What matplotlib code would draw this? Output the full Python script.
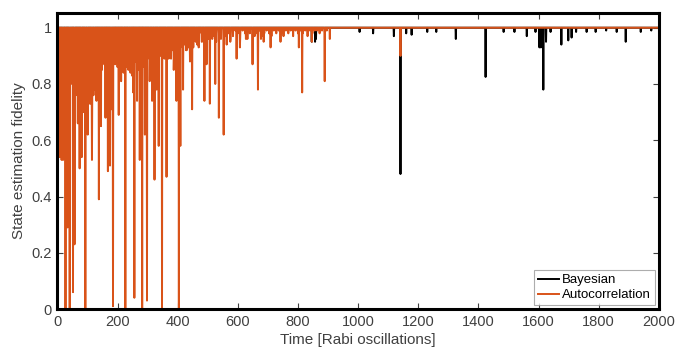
import matplotlib.pyplot as plt
import numpy as np

plt.rcParams['font.family'] = ['Liberation Sans', 'DejaVu Sans']

# time axis, one sample per Rabi oscillation
n_steps = 2000

# ---- Autocorrelation: big dips (time, fidelity)
auto_dip_t = [19, 27, 34, 41, 45, 52, 57, 64, 68, 74, 81, 86, 93, 101, 108, 115, 123, 130, 138,
              145, 153, 160, 168, 175, 181, 185, 196, 204, 212, 221, 226, 235, 243, 252, 256,
              265, 274, 282, 291, 298, 307, 315, 323, 330, 337, 348, 356, 363, 370, 378, 387,
              396, 404, 409, 418, 430, 441, 448, 459, 465, 470, 481, 489, 496, 507, 515, 525,
              537, 553, 563, 575, 596, 607, 627, 649, 667, 677, 686, 709, 742, 803, 814, 846,
              889, 906, 1141]
auto_dip_v = [0.53, 0.0, 0.29, 0.0, 0.80, 0.06, 0.23, 0.80, 0.66, 0.50, 0.54, 0.70, 0.0, 0.62,
              0.73, 0.53, 0.80, 0.74, 0.39, 0.65, 0.91, 0.68, 0.49, 0.51, 0.71, 0.01, 0.91,
              0.69, 0.81, 0.90, 0.0, 0.86, 0.84, 0.77, 0.04, 0.74, 0.53, 0.0, 0.62, 0.03, 0.81,
              0.74, 0.46, 0.78, 0.58, 0.0, 0.93, 0.47, 0.89, 0.89, 0.85, 0.74, 0.0, 0.58, 0.78,
              0.92, 0.88, 0.71, 0.96, 0.94, 0.93, 0.95, 0.74, 0.87, 0.73, 0.96, 0.80, 0.68,
              0.62, 0.94, 0.95, 0.89, 0.93, 0.96, 0.87, 0.78, 0.96, 0.95, 0.93, 0.95, 0.93,
              0.77, 0.95, 0.81, 0.96, 0.90]

# dense band of smaller dips at the start (every 2, then every 3, then every 8 steps)
auto_band1_t = list(range(2, 26, 2))
auto_band1_v = [0.62, 0.55, 0.58, 0.54, 0.60, 0.56, 0.53, 0.57, 0.61, 0.55, 0.59, 0.66]

auto_band2_t = list(range(28, 461, 4))
auto_band2_v = [0.84, 0.88, 0.82, 0.86, 0.90, 0.83, 0.85, 0.80, 0.86,
                0.77, 0.73, 0.80, 0.75, 0.71, 0.78, 0.74, 0.76, 0.72, 0.79, 0.75, 0.77, 0.73,
                0.81, 0.76, 0.78, 0.82,
                0.86, 0.89, 0.84, 0.88, 0.85, 0.90, 0.87, 0.83, 0.88, 0.86, 0.91, 0.85, 0.88,
                0.84, 0.89, 0.87, 0.90, 0.86,
                0.88, 0.85, 0.90, 0.87, 0.84, 0.89, 0.86, 0.91, 0.85, 0.88, 0.87, 0.83, 0.90,
                0.86, 0.88, 0.92, 0.85, 0.89, 0.87, 0.90, 0.86, 0.88, 0.91, 0.85, 0.89,
                0.91, 0.89, 0.93, 0.90, 0.88, 0.92, 0.91, 0.94, 0.89, 0.92, 0.90, 0.93, 0.91,
                0.89, 0.94, 0.92, 0.90, 0.93, 0.91, 0.95, 0.92, 0.90, 0.93, 0.91, 0.94,
                0.94, 0.92, 0.95, 0.93, 0.96, 0.94, 0.92, 0.95, 0.93, 0.96, 0.94, 0.95, 0.93,
                0.96, 0.95]
auto_fill_t = list(range(30, 131, 4))
auto_fill_v = [0.87, 0.83, 0.89, 0.85, 0.81, 0.86, 0.84, 0.78, 0.82, 0.76, 0.80, 0.74, 0.79,
               0.77, 0.72, 0.80, 0.75, 0.78, 0.82, 0.74, 0.79, 0.83, 0.77, 0.81, 0.84, 0.86]

auto_band3_t = list(range(464, 901, 8))
auto_band3_v = [0.96, 0.98, 0.95, 0.97, 0.99, 0.96, 0.98, 0.97, 0.95, 0.98, 0.96, 0.99, 0.97,
                0.98, 0.96, 0.97, 0.99, 0.98,
                0.97, 0.99, 0.98, 0.96, 0.98, 0.99, 0.97, 0.98, 0.99, 0.97, 0.98, 0.99, 0.98,
                0.97, 0.99, 0.98, 0.99, 0.98, 0.97,
                0.99, 0.98, 0.99, 0.97, 0.99, 0.98, 0.99, 0.98, 0.99, 0.97, 0.99, 0.98, 0.99,
                0.99, 0.98, 0.99, 0.98, 0.99]

# ---- Bayesian: dips
bayes_dip_t = [846, 857, 860, 1005, 1050, 1119, 1141, 1160, 1178, 1230, 1260, 1325, 1424, 1484,
               1520, 1561, 1590, 1603, 1608, 1616, 1625, 1640, 1676, 1699, 1710, 1725, 1760,
               1790, 1825, 1860, 1890, 1940, 1975]
bayes_dip_v = [0.95, 0.95, 0.96, 0.985, 0.98, 0.97, 0.48, 0.98, 0.975, 0.985, 0.985, 0.96, 0.825,
               0.985, 0.985, 0.97, 0.985, 0.93, 0.93, 0.78, 0.95, 0.985, 0.94, 0.955, 0.965,
               0.985, 0.985, 0.985, 0.99, 0.985, 0.95, 0.985, 0.99]
bayes_noise_t = list(range(3, 300, 10))
bayes_noise_v = [0.99, 0.985, 0.99, 0.988, 0.992, 0.986, 0.99, 0.985, 0.991, 0.988,
                 0.99, 0.987, 0.992, 0.989, 0.986, 0.99, 0.991, 0.988, 0.99, 0.992,
                 0.989, 0.991, 0.99, 0.993, 0.99, 0.992, 0.991, 0.993, 0.992, 0.994]


def build(pairs):
    y = np.ones(n_steps + 1)
    for ts, vs in pairs:
        for t, v in zip(ts, vs):
            y[t] = min(y[t], v)
    return y


time = np.arange(n_steps + 1)
auto = build([(auto_dip_t, auto_dip_v), (auto_band1_t, auto_band1_v),
              (auto_band2_t, auto_band2_v), (auto_fill_t, auto_fill_v),
              (auto_band3_t, auto_band3_v)])
bayes = build([(bayes_dip_t, bayes_dip_v), (bayes_noise_t, bayes_noise_v)])

fig = plt.figure(figsize=(6.75, 3.54), dpi=100)
ax = fig.add_axes([0.085, 0.127, 0.891, 0.836])

ax.plot(time, bayes, color='black', lw=1.4, label='Bayesian')
ax.plot(time, auto, color='#D95319', lw=1.4, label='Autocorrelation')

ax.set_xlim(0, 2000)
ax.set_ylim(0, 1.052)
ax.set_xticks(np.arange(0, 2001, 200))
ax.set_yticks([0, 0.2, 0.4, 0.6, 0.8, 1])
ax.set_yticklabels(['0', '0.2', '0.4', '0.6', '0.8', '1'])
ax.tick_params(direction='in', top=True, right=True, length=4, width=0.8,
               labelsize=10.5, colors='#404040', pad=4)
for s in ax.spines.values():
    s.set_linewidth(2.2)

ax.set_xlabel('Time [Rabi oscillations]', fontsize=11, color='#404040', labelpad=3)
ax.set_ylabel('State estimation fidelity', fontsize=11, color='#404040', labelpad=4)

leg = ax.legend(loc='lower right', fontsize=9.5, frameon=True, fancybox=False,
                handlelength=1.6, handletextpad=0.2, borderpad=0.3, labelspacing=0.2,
                borderaxespad=0.3)
leg.get_frame().set_edgecolor('#999999')
leg.get_frame().set_linewidth(0.8)

plt.savefig('out.png', dpi=100)
